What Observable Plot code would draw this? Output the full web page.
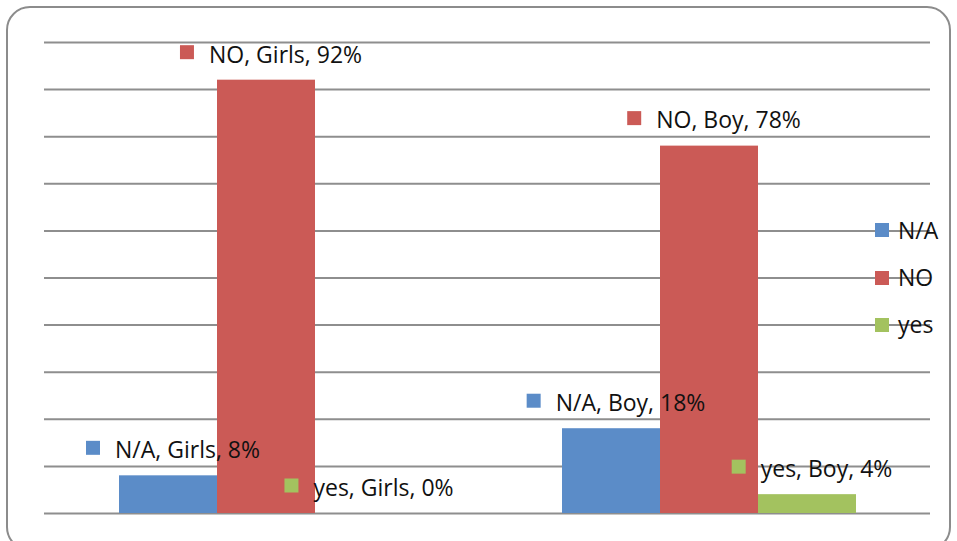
<!DOCTYPE html>
<html><head><meta charset="utf-8">
<script src="https://cdn.jsdelivr.net/npm/d3@7"></script>
<script src="https://cdn.jsdelivr.net/npm/@observablehq/plot@0.6"></script>
<style>
body{margin:0;background:#fff;font-family:"Open Sans",sans-serif;}
#wrap{position:relative;width:957px;height:541px;overflow:hidden;background:#fff}
#border{position:absolute;left:6px;top:6px;width:945px;height:545px;border:2px solid #8c8c8c;border-radius:24px;box-sizing:border-box}
#chart{position:absolute;left:0;top:0}
.leg{position:absolute;left:875px;display:flex;align-items:center;font:23px "Open Sans",sans-serif;color:#111;line-height:1}
.leg span.sw{display:inline-block;width:14px;height:14px;margin-right:9px}
</style></head>
<body>
<div id="wrap"><div id="border"></div><div id="chart"></div><div id="legend"></div></div>
<script>
const categories = ["Girls", "Boy"];
const series = ["N/A", "NO", "yes"];
const naValues = [0.08, 0.18];
const noValues = [0.92, 0.78];
const yesValues = [0.00, 0.04];
const gridTicks = [0, 0.1, 0.2, 0.3, 0.4, 0.5, 0.6, 0.7, 0.8, 0.9, 1.0];
const colors = ["#5B8CC8", "#CB5A56", "#A3C25F"];
const legendTicks = [0.6, 0.5, 0.4];

const valuesBySeries = [naValues, noValues, yesValues];
const data = [];
series.forEach((s, si) => categories.forEach((c, ci) => {
  const v = valuesBySeries[si][ci];
  data.push({series: s, cat: c, value: v, label: `${s}, ${c}, ${Math.round(v * 100)}%`});
}));

const FONT = '23px "Open Sans"';
const ctx = document.createElement("canvas").getContext("2d");
ctx.font = FONT;
data.forEach(d => d.w = ctx.measureText(d.label).width);

const markers = data.map(d => Plot.dot([d], {
  fx: "cat", x: "series", y: "value", fill: "series",
  symbol: "square", r: 14 / Math.sqrt(Math.PI),
  dx: -3 - d.w / 2, dy: -28
}));

const chart = Plot.plot({
  width: 957, height: 541,
  marginLeft: 44, marginRight: 27, marginTop: 42, marginBottom: 28,
  style: {fontFamily: '"Open Sans", sans-serif', background: "transparent"},
  fx: {domain: categories, padding: 0, axis: null, label: null},
  x: {domain: series, paddingInner: 0, paddingOuter: 0.76, axis: null},
  y: {domain: [0, 1], axis: null},
  color: {domain: series, range: colors},
  marks: [
    Plot.ruleY(gridTicks, {stroke: "#8e8e8e", strokeWidth: 2}),
    Plot.barY(data, {fx: "cat", x: "series", y: "value", fill: "series", inset: 0}),
    ...markers,
    Plot.text(data, {fx: "cat", x: "series", y: "value", text: "label", dx: 19, dy: -25,
      textAnchor: "middle", lineAnchor: "middle", fontSize: 23, fill: "#111"})
  ]
});
document.getElementById("chart").append(chart);

const ys = d3.scaleLinear().domain([0, 1]).range([513, 42]);
const leg = document.getElementById("legend");
series.forEach((s, i) => {
  const el = document.createElement("div");
  el.className = "leg";
  el.style.top = (ys(legendTicks[i]) - 12) + "px";
  el.style.height = "24px";
  el.innerHTML = `<span class="sw" style="background:${colors[i]}"></span><span>${s}</span>`;
  leg.append(el);
});
</script>
</body></html>
